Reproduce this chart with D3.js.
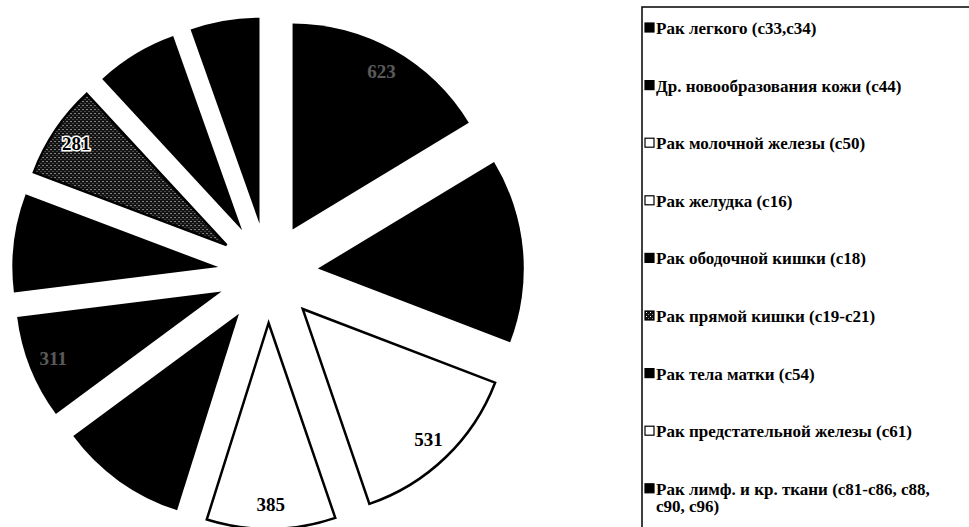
<!DOCTYPE html>
<html>
<head>
<meta charset="utf-8">
<script src="https://cdn.jsdelivr.net/npm/d3@7"></script>
<style>
  body { margin: 0; background: #fff; }
  text { font-family: "Liberation Serif", "Times New Roman", serif; font-weight: bold; }
</style>
</head>
<body>
<svg id="chart" width="969" height="527"></svg>
<script>
// slice values, clockwise from 12 o'clock
const values = [623, 552, 531, 385, 382, 311, 294, 281, 246, 207];

// legend entries (the box runs past the bottom of the frame)
const categories = [
  'Рак легкого (c33,c34)',
  'Др. новообразования кожи (c44)',
  'Рак молочной железы (c50)',
  'Рак желудка (c16)',
  'Рак ободочной кишки (c18)',
  'Рак прямой кишки (c19-c21)',
  'Рак тела матки (c54)',
  'Рак предстательной железы (c61)',
  'Рак лимф. и кр. ткани (c81-c86, c88,|c90, c96)'
];

// styles
const sliceStyle = ['black', 'black', 'white', 'white', 'black', 'black', 'black', 'hatch', 'black', 'black'];
const labelStyle = ['faint', 'none', 'dark', 'dark', 'none', 'faint', 'none', 'dark', 'none', 'none'];
const legendStyle = ['black', 'black', 'white', 'white', 'black', 'hatch', 'black', 'white', 'black'];

let width = 969, height = 527;
let cx = 268, cy = 273, radius = 206, explode = 50;

const svg = d3.select('#chart');

const defs = svg.append('defs');
let pat = defs.append('pattern')
  .attr('id', 'hatch')
  .attr('width', 4).attr('height', 4)
  .attr('patternUnits', 'userSpaceOnUse');
pat.append('rect').attr('width', 4).attr('height', 4).attr('fill', '#111');
pat.append('rect').attr('x', 0).attr('y', 0).attr('width', 1).attr('height', 1).attr('fill', '#fff');
pat.append('rect').attr('x', 2).attr('y', 2).attr('width', 1).attr('height', 1).attr('fill', '#888');

function fillFor(s) {
  if (s === 'hatch') return 'url(#hatch)';
  return s === 'white' ? '#fff' : '#000';
}

const pie = d3.pie().sort(null).value(d => d);
const arcs = pie(values);
const arc = d3.arc().innerRadius(0).outerRadius(radius);

const mid = d => (d.startAngle + d.endAngle) / 2;
const offset = (d, r) => [r * Math.sin(mid(d)), -r * Math.cos(mid(d))];

const pieG = svg.append('g').attr('transform', `translate(${cx},${cy})`);

const slice = pieG.selectAll('g.slice')
  .data(arcs)
  .enter()
  .append('g')
  .attr('class', 'slice')
  .attr('transform', d => `translate(${offset(d, explode)})`);

slice.append('path')
  .attr('d', arc)
  .attr('fill', d => fillFor(sliceStyle[d.index]))
  .attr('stroke', '#000')
  .attr('stroke-width', d => sliceStyle[d.index] === 'black' ? 0 : 2.5)
  .attr('stroke-linejoin', 'miter');

// labels; on black slices only traces of the numbers survive
slice.filter(d => labelStyle[d.index] !== 'none')
  .append('text')
  .attr('transform', d => `translate(${offset(d, radius * 0.88)})`)
  .attr('text-anchor', 'middle')
  .attr('dy', '.35em')
  .attr('font-size', 19)
  .attr('fill', d => labelStyle[d.index] === 'faint' ? '#fff' : '#000')
  .attr('opacity', d => labelStyle[d.index] === 'faint' ? 0.35 : 1)
  .attr('stroke', d => sliceStyle[d.index] === 'hatch' ? '#fff' : 'none')
  .attr('stroke-width', 3)
  .attr('paint-order', 'stroke')
  .text(d => d.data);

// legend
let legendX = 642, legendY = 7, step = 57.6;
svg.append('rect')
  .attr('x', legendX).attr('y', legendY)
  .attr('width', 400).attr('height', 600)
  .attr('fill', 'none')
  .attr('stroke', '#000')
  .attr('stroke-width', 1.5);

const item = svg.selectAll('g.legend')
  .data(categories)
  .enter()
  .append('g')
  .attr('class', 'legend')
  .attr('transform', (d, i) => `translate(${legendX}, ${legendY + 21 + i * step})`);

item.append('rect')
  .attr('x', 3).attr('y', -5)
  .attr('width', 9).attr('height', 9)
  .attr('fill', (d, i) => fillFor(legendStyle[i]))
  .attr('stroke', '#000')
  .attr('stroke-width', 1.2);

item.append('text')
  .attr('font-size', 17)
  .each(function (d) {
    let parts = d.split('|');
    d3.select(this).selectAll('tspan')
      .data(parts)
      .enter()
      .append('tspan')
      .attr('x', 14)
      .attr('dy', (p, j) => j === 0 ? '.35em' : '1.02em')
      .text(p => p);
  });
</script>
</body>
</html>
